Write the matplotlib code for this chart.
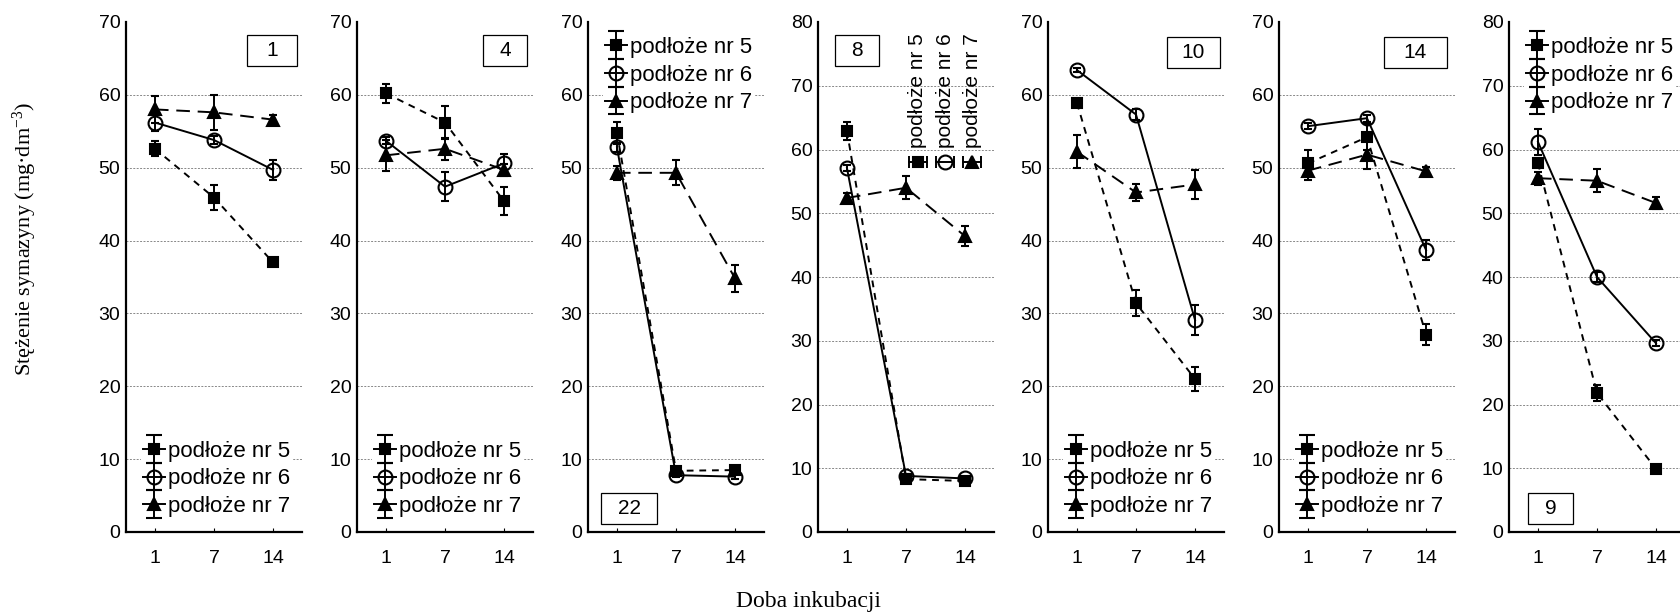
import matplotlib
matplotlib.use("Agg")
import matplotlib.pyplot as plt
from matplotlib.patches import Rectangle
from matplotlib.legend_handler import HandlerErrorbar
import numpy as np

plt.rcParams['font.family'] = ['Liberation Sans', 'DejaVu Sans']
plt.rcParams['mathtext.default'] = 'regular'

days = ['1', '7', '14']
panel_names = ['1', '4', '22', '8', '10', '14', '9']
y_max = [70, 70, 70, 80, 70, 70, 80]
series_names = ['podłoże nr 5', 'podłoże nr 6', 'podłoże nr 7']

nr5 = [[52.6, 45.9, 37.0], [60.2, 56.2, 45.4], [54.8, 8.4, 8.5], [62.9, 8.3, 8.0],
       [58.9, 31.4, 21.0], [50.6, 54.2, 27.1], [57.9, 21.8, 9.9]]
nr5_err = [[1.0, 1.7, 0.4], [1.3, 2.3, 1.9], [1.5, 0.4, 0.3], [1.4, 0.3, 0.3],
           [0.5, 1.8, 1.7], [1.8, 1.8, 1.5], [0.6, 1.2, 0.3]]
nr6 = [[56.2, 53.8, 49.7], [53.7, 47.4, 50.6], [52.8, 7.8, 7.6], [57.1, 8.8, 8.4],
       [63.4, 57.3, 29.1], [55.7, 56.8, 38.7], [61.2, 40.0, 29.6]]
nr6_err = [[1.2, 0.6, 1.35], [0.5, 2.0, 1.35], [0.6, 0.3, 0.3], [0.4, 0.3, 0.3],
           [0.3, 0.8, 2.0], [0.4, 0.5, 1.4], [2.0, 0.8, 0.5]]
nr7 = [[58.0, 57.6, 56.6], [51.7, 52.6, 49.7], [49.3, 49.3, 34.8], [52.4, 54.0, 46.4],
       [52.2, 46.6, 47.7], [49.6, 51.8, 49.5], [55.5, 55.1, 51.6]]
nr7_err = [[1.8, 2.4, 0.7], [2.1, 1.5, 0.8], [1.0, 1.7, 1.8], [0.7, 1.8, 1.6],
           [2.3, 1.2, 2.0], [1.3, 2.0, 0.6], [1.0, 1.8, 1.0]]

# legend placement per panel: 'low', 'high', 'rot'
legend_pos = ['low', 'low', 'high', 'rot', 'low', 'low', 'high']
# panel label boxes: centre x, centre y (axes fraction), width px
box_spec = [(0.83, 0.945, 50), (0.84, 0.945, 44), (0.233, 0.047, 56), (0.22, 0.945, 44),
            (0.825, 0.94, 53), (0.775, 0.94, 63), (0.235, 0.047, 45)]

W, H = 1680, 616
fig = plt.figure(figsize=(W / 100, H / 100), dpi=100)

lefts = [126, 357, 588, 818, 1048, 1279, 1509]
ax_w, ax_bot, ax_top = 176, 532, 22

styles = [dict(marker='s', ms=7.5, mfc='black', ls=(0, (3.5, 3))),
          dict(marker='o', ms=10, mfc='none', ls='-'),
          dict(marker='^', ms=9, mfc='black', ls=(0, (7, 4)))]

x = np.arange(len(days))
for i in range(7):
    ax = fig.add_axes([lefts[i] / W, (H - ax_bot) / H, ax_w / W, (ax_bot - ax_top) / H])
    data = [(nr5[i], nr5_err[i]), (nr6[i], nr6_err[i]), (nr7[i], nr7_err[i])]
    handles = []
    for k, (vals, errs) in enumerate(data):
        st = styles[k]
        ax.errorbar(x, vals, yerr=errs, color='black', lw=1.4, ls=st['ls'],
                    marker=st['marker'], ms=st['ms'], mfc=st['mfc'], mec='black',
                    mew=1.5, elinewidth=1.4, capsize=3, capthick=1.4, zorder=3 + k)
        # legend-only handle with wider caps
        h = ax.errorbar([np.nan], [np.nan], yerr=[1], color='black', lw=1.4, ls='-',
                        marker=st['marker'], ms=st['ms'], mfc=st['mfc'], mec='black',
                        mew=1.5, elinewidth=1.4, capsize=6, capthick=1.4)
        handles.append(h)
    ax.set_xlim(-0.49, 2.49)
    ax.set_ylim(0, y_max[i])
    ax.set_yticks(np.arange(0, y_max[i] + 1, 10))
    ax.set_xticks(x)
    ax.set_xticklabels(days)
    for s in ['top', 'right']:
        ax.spines[s].set_visible(False)
    for s in ['left', 'bottom']:
        ax.spines[s].set_linewidth(1.6)
        ax.spines[s].set_zorder(10)
    ax.tick_params(axis='y', length=0, pad=4, labelsize=14)
    ax.tick_params(axis='x', direction='in', length=3, pad=13, labelsize=14)
    for v in np.arange(10, y_max[i], 10):
        ax.axhline(v, color='#888888', lw=0.7, ls=(0, (2, 1.5)), zorder=1)

    if legend_pos[i] in ('low', 'high'):
        loc = 'lower left' if legend_pos[i] == 'low' else 'upper left'
        anchor = (0.085, 0.025) if legend_pos[i] == 'low' else (0.085, 0.975)
        leg = ax.legend(handles, series_names, loc=loc, bbox_to_anchor=anchor,
                        fontsize=16, frameon=True, handlelength=1.0,
                        handletextpad=0.1, labelspacing=0.3, borderpad=0.1,
                        borderaxespad=0, fancybox=False,
                        handler_map={type(handles[0]): HandlerErrorbar(yerr_size=0.62)})
        leg.get_frame().set_edgecolor('none')
        leg.get_frame().set_facecolor('white')
        leg.get_frame().set_alpha(1)
        leg.set_zorder(8)
    else:
        cols = [0.568, 0.722, 0.875]
        for k in range(3):
            st = styles[k]
            cx = cols[k]
            ax.text(cx, 0.752, series_names[k], rotation=90, ha='center', va='bottom',
                    fontsize=15, transform=ax.transAxes)
            ax.plot([cx - 0.05, cx + 0.05], [0.725, 0.725], color='black', lw=1.4,
                    transform=ax.transAxes, clip_on=False)
            ax.plot([cx - 0.05, cx + 0.05], [0.725, 0.725], ls='none', marker='|', ms=9,
                    mew=1.4, color='black', transform=ax.transAxes, clip_on=False)
            ax.plot([cx], [0.725], ls='none', marker=st['marker'], ms=st['ms'],
                    mfc=st['mfc'], mec='black', mew=1.5, transform=ax.transAxes,
                    clip_on=False)

    cx, cy, bw = box_spec[i]
    fw = bw / ax_w
    fh = 31 / (ax_bot - ax_top)
    ax.add_patch(Rectangle((cx - fw / 2, cy - fh / 2), fw, fh, transform=ax.transAxes,
                           fc='white', ec='black', lw=0.9, zorder=6))
    ax.text(cx, cy, panel_names[i], ha='center', va='center', fontsize=15,
            transform=ax.transAxes, zorder=7)

fig.text(25 / W, 1 - 239 / H, 'Stężenie symazyny (mg·dm$^{\\mathregular{-3}}$)',
         rotation=90, ha='center', va='center', fontsize=16,
         family=['Liberation Serif', 'DejaVu Serif'])
fig.text(808 / W, 1 - 601 / H, 'Doba inkubacji', ha='center', va='center',
         fontsize=17, family=['Liberation Serif', 'DejaVu Serif'])

fig.savefig('out.png', dpi=100)
